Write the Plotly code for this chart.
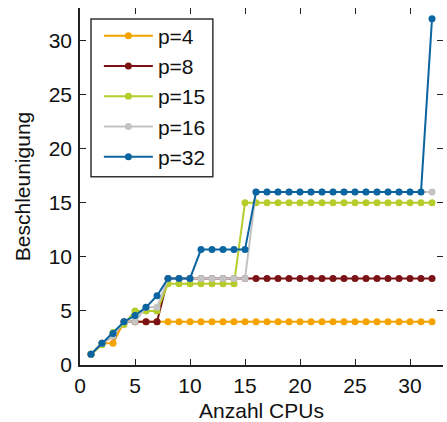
import plotly.graph_objects as go

# Number of CPUs
cpus = [1, 2, 3, 4, 5, 6, 7, 8, 9, 10, 11, 12, 13, 14, 15, 16,
        17, 18, 19, 20, 21, 22, 23, 24, 25, 26, 27, 28, 29, 30, 31, 32]

# Speedup for p parallel tasks
speedup_p4 = [1, 2, 2, 4, 4, 4, 4, 4, 4, 4, 4, 4, 4, 4, 4, 4,
              4, 4, 4, 4, 4, 4, 4, 4, 4, 4, 4, 4, 4, 4, 4, 4]
speedup_p8 = [1, 2, 2.67, 4, 4, 4, 4, 8, 8, 8, 8, 8, 8, 8, 8, 8,
              8, 8, 8, 8, 8, 8, 8, 8, 8, 8, 8, 8, 8, 8, 8, 8]
speedup_p15 = [1, 1.88, 3, 3.75, 5, 5, 5, 7.5, 7.5, 7.5, 7.5, 7.5, 7.5, 7.5, 15, 15,
               15, 15, 15, 15, 15, 15, 15, 15, 15, 15, 15, 15, 15, 15, 15, 15]
speedup_p16 = [1, 2, 2.67, 4, 4, 5.33, 5.33, 8, 8, 8, 8, 8, 8, 8, 8, 16,
               16, 16, 16, 16, 16, 16, 16, 16, 16, 16, 16, 16, 16, 16, 16, 16]
speedup_p32 = [1, 2, 2.91, 4, 4.57, 5.33, 6.4, 8, 8, 8, 10.67, 10.67, 10.67, 10.67, 10.67, 16,
               16, 16, 16, 16, 16, 16, 16, 16, 16, 16, 16, 16, 16, 16, 16, 32]

series = [
    ("p=4", speedup_p4, "#F5A300"),
    ("p=8", speedup_p8, "#7A1216"),
    ("p=15", speedup_p15, "#B5CC2A"),
    ("p=16", speedup_p16, "#C3C3C3"),
    ("p=32", speedup_p32, "#0A65A0"),
]

FONT = "Liberation Sans, Arial, sans-serif"
FS = 21

fig = go.Figure()
for name, vals, color in series:
    fig.add_trace(go.Scatter(
        x=cpus, y=vals, name=name, mode="lines+markers",
        line=dict(color=color, width=2),
        marker=dict(color=color, size=7),
        legendgroup=name,
    ))

# invisible trace so the mirrored tick axes (top/right) are drawn
fig.add_trace(go.Scatter(x=[None], y=[None], xaxis="x2", yaxis="y2",
                         showlegend=False, hoverinfo="skip"))

axis_common = dict(
    showgrid=False, zeroline=False, ticks="inside", ticklen=6,
    tickwidth=1.3, tickcolor="#222", dtick=5, automargin=False,
    tickfont=dict(family=FONT, size=FS, color="#111"),
)

fig.update_layout(
    width=447, height=422,
    margin=dict(l=80, r=4, t=8, b=57),
    paper_bgcolor="white", plot_bgcolor="white",
    font=dict(family=FONT, color="#111"),
    xaxis=dict(range=[0, 33], showline=True, linecolor="#222", linewidth=1.6,
               title=dict(text="Anzahl CPUs", font=dict(family=FONT, size=FS), standoff=11),
               ticklabelstandoff=1, **axis_common),
    yaxis=dict(range=[0, 33], showline=True, linecolor="#222", linewidth=1.6,
               title=dict(text="Beschleunigung", font=dict(family=FONT, size=FS), standoff=12),
               ticklabelstandoff=2, **axis_common),
    xaxis2=dict(range=[0, 33], overlaying="x", side="top", matches="x",
                showline=False, showticklabels=False, anchor="y2", **axis_common),
    yaxis2=dict(range=[0, 33], overlaying="y", side="right", matches="y",
                showline=False, showticklabels=False, anchor="x2", **axis_common),
    legend=dict(
        x=0.052, y=0.979, xanchor="left", yanchor="top",
        bgcolor="rgba(0,0,0,0)", borderwidth=0,
        font=dict(family=FONT, size=FS, color="#111"),
        traceorder="grouped", tracegroupgap=0,
        itemwidth=49,
    ),
    # frame around the legend entries
    shapes=[dict(type="rect", xref="paper", yref="paper",
                 x0=0.0303, x1=0.366, y0=0.527, y1=0.969,
                 line=dict(color="#333", width=1.5), fillcolor="white",
                 layer="above")],
    showlegend=True,
)

fig.write_html("out.html")
